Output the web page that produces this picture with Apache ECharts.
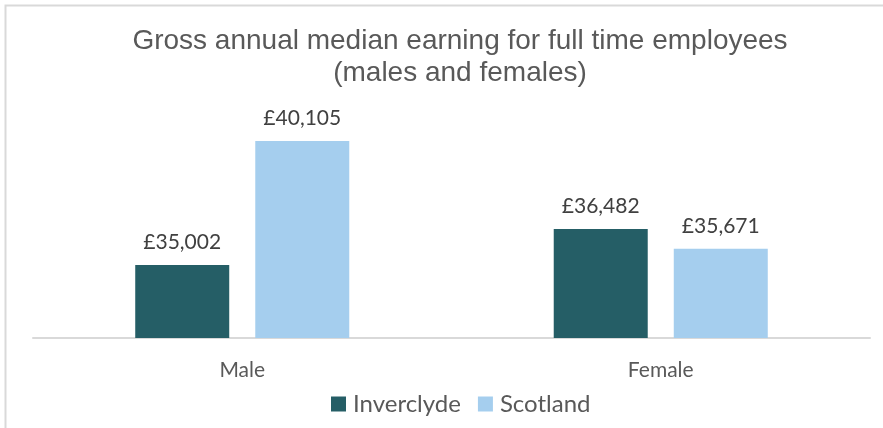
<!DOCTYPE html>
<html>
<head>
<meta charset="utf-8">
<script src="https://cdn.jsdelivr.net/npm/echarts@6/dist/echarts.min.js"></script>
<style>
  html, body { margin: 0; padding: 0; background: #fff; }
  #chart { width: 883px; height: 428px; }
</style>
</head>
<body>
<div id="chart"></div>
<script>
// data
var categories = ['Male', 'Female'];
var inverclyde = [35002, 36482];
var scotland = [40105, 35671];
var seriesNames = ['Inverclyde', 'Scotland'];

var chart = echarts.init(document.getElementById('chart'));

function money(p) {
    return '£' + p.value.toLocaleString('en-GB');
}

var labelStyle = {
    show: true,
    position: 'top',
    distance: 12,
    formatter: money,
    color: '#404040',
    fontFamily: 'Lato',
    fontSize: 21
};

chart.setOption({
    animation: false,
    title: {
        text: 'Gross annual median earning for full time employees\n(males and females)',
        left: 455,
        textAlign: 'center',
        top: 20,
        textStyle: {
            fontFamily: 'Liberation Sans',
            fontWeight: 'normal',
            fontSize: 28,
            color: '#595959',
            lineHeight: 32
        }
    },
    graphic: [{
        type: 'rect',
        shape: { x: 5.5, y: 5.5, width: 950, height: 500 },
        style: { fill: 'none', stroke: '#d9d9d9', lineWidth: 2 },
        silent: true
    }],
    legend: {
        data: seriesNames,
        bottom: 7,
        left: 326,
        itemWidth: 15,
        itemHeight: 15,
        itemGap: 17,
        icon: 'rect',
        textStyle: { fontFamily: 'Lato', fontSize: 24, color: '#595959', padding: [0, 0, 0, 2] }
    },
    grid: { left: 33, right: 13, top: 95, bottom: 90 },
    xAxis: {
        type: 'category',
        data: categories,
        axisLine: { lineStyle: { color: '#d9d9d9', width: 2 } },
        axisTick: { show: false },
        axisLabel: { fontFamily: 'Lato', fontSize: 21, color: '#595959', margin: 22 }
    },
    yAxis: {
        type: 'value',
        min: 32000,
        max: 42000,
        show: false,
        splitLine: { show: false }
    },
    series: [{
        name: seriesNames[0],
        type: 'bar',
        data: inverclyde,
        barWidth: 94,
        barGap: '27.7%',
        itemStyle: { color: '#255e66' },
        label: labelStyle
    }, {
        name: seriesNames[1],
        type: 'bar',
        data: scotland,
        barWidth: 94,
        itemStyle: { color: '#a5ceee' },
        label: labelStyle
    }]
});
</script>
</body>
</html>
